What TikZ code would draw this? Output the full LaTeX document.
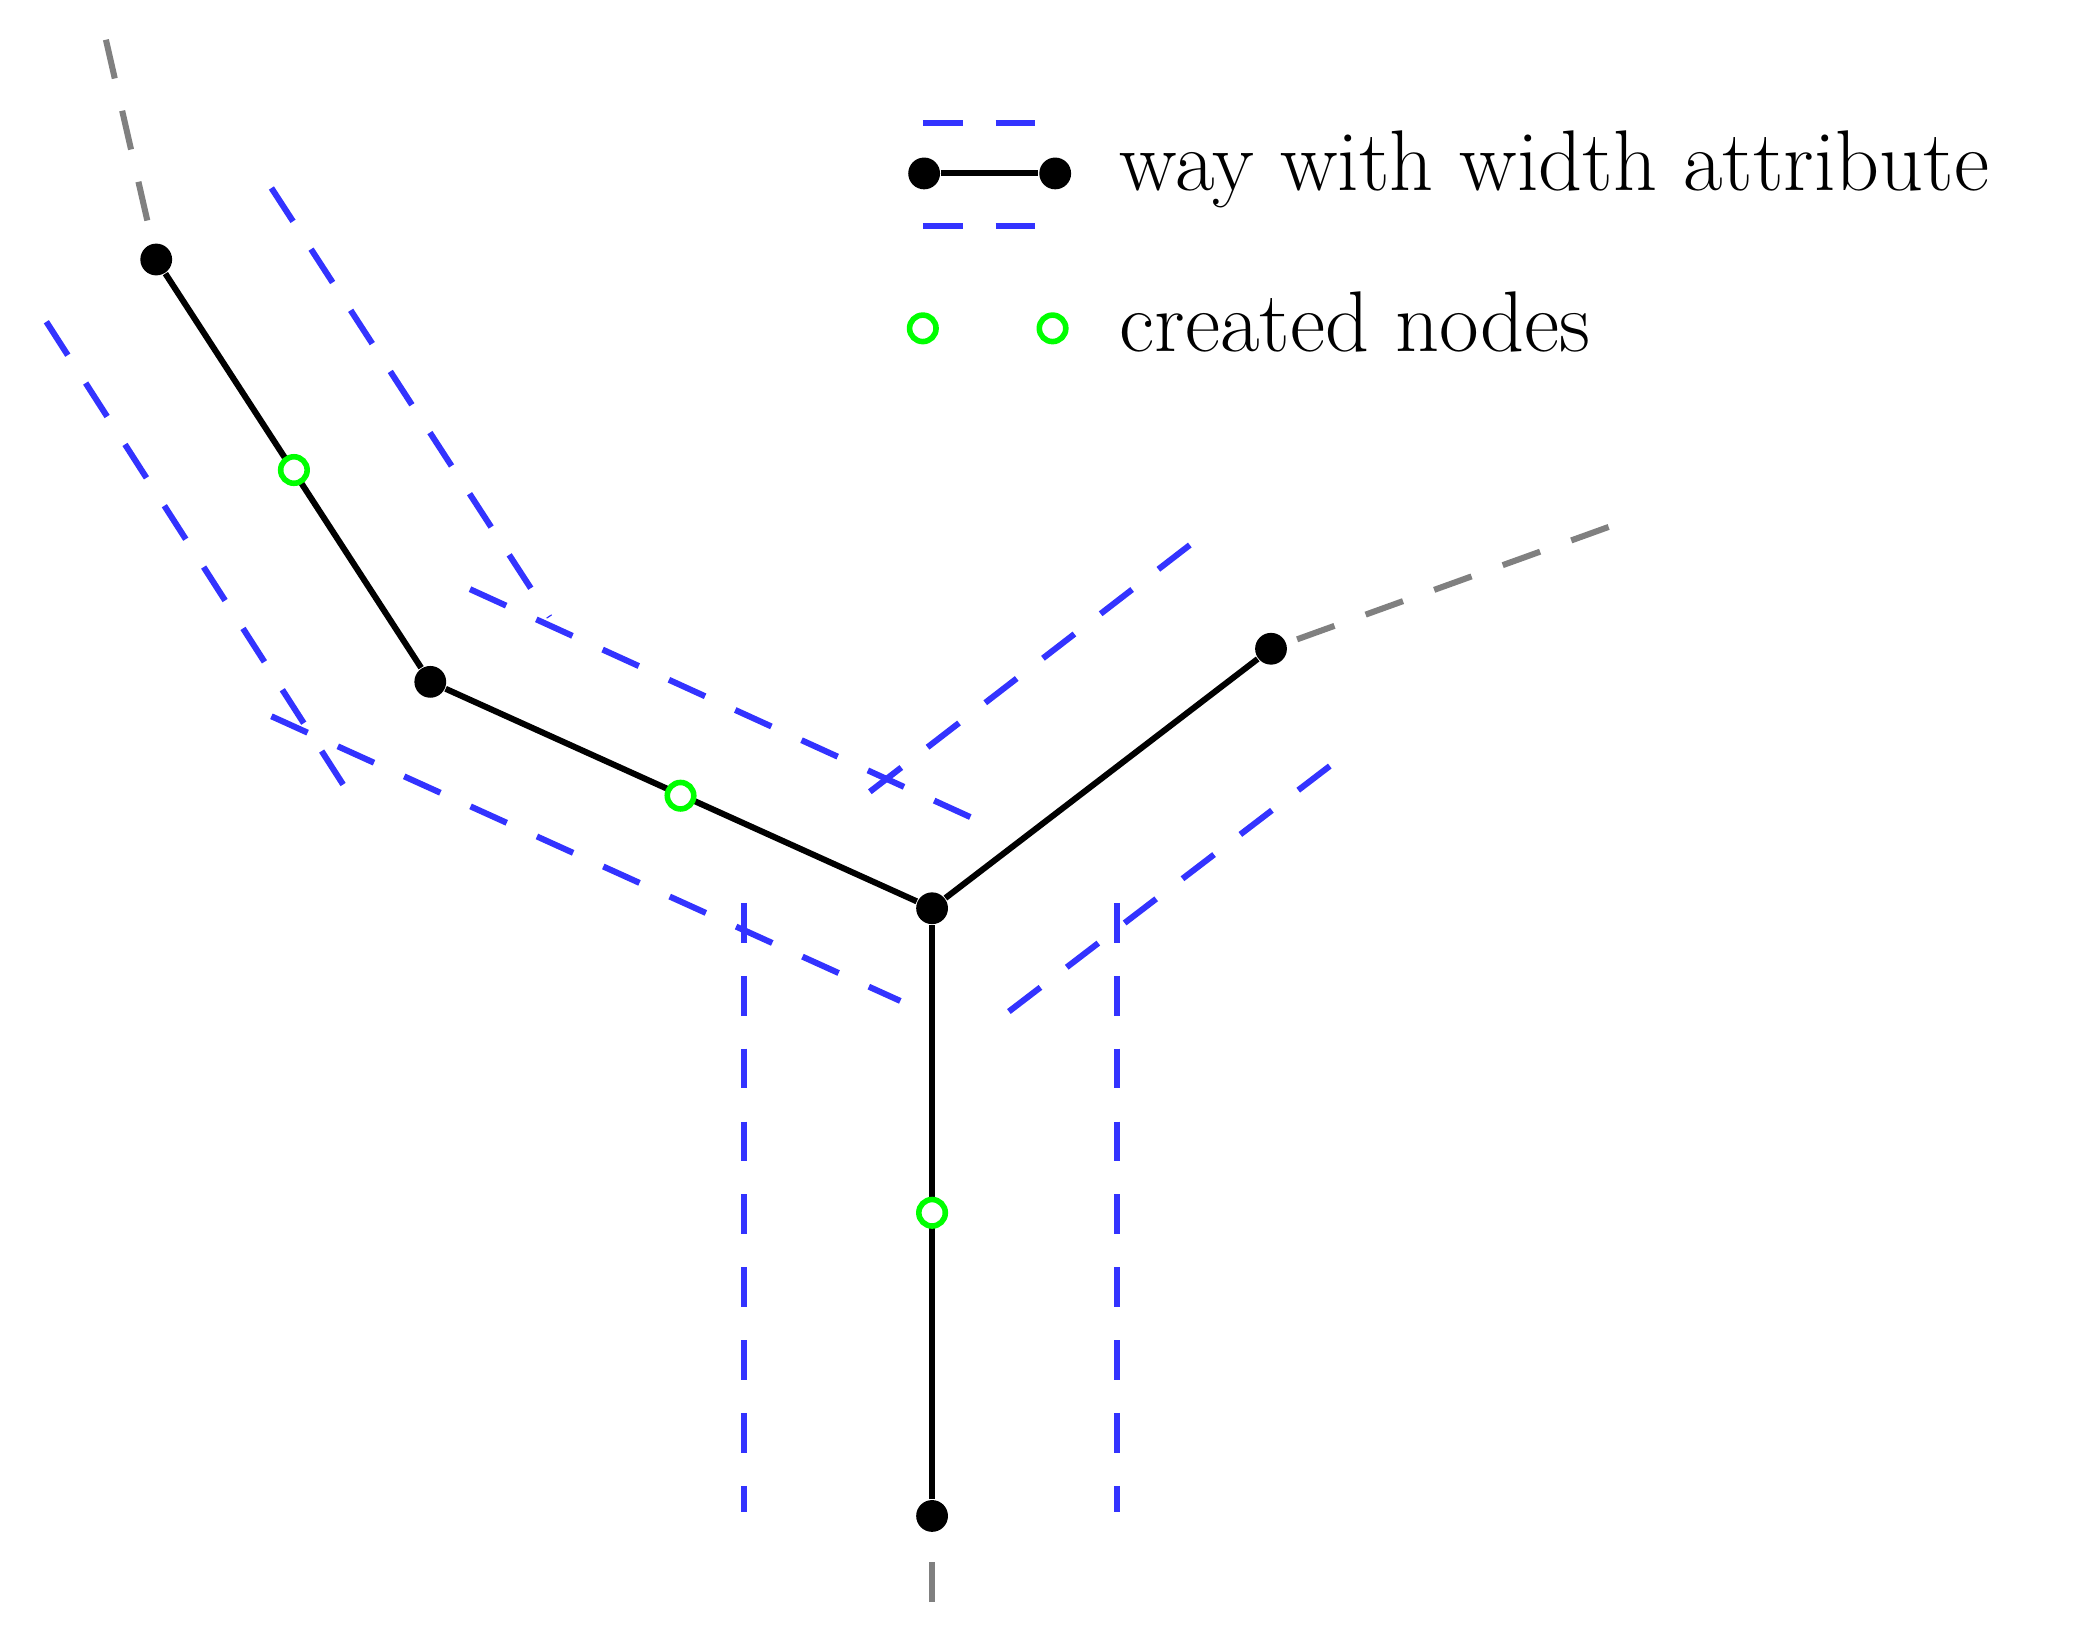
\documentclass[tikz,border=0pt]{standalone}
\begin{document}
\begin{tikzpicture}[
    x=0.01cm, y=-0.01cm,
    waynode/.style = {circle, fill=black, inner sep=0pt, minimum size=0.24cm},
    newnode/.style = {circle, draw=green, fill=white, line width=1.2pt,
                      inner sep=0pt, minimum size=0.2cm},
    way/.style     = {line width=1.3pt},
    ext/.style     = {line width=1.3pt, gray, dash pattern=on 0.3cm off 0.25cm},
    border/.style  = {line width=1.3pt, blue!80!white, dash pattern=on 0.3cm off 0.25cm},
    legtext/.style = {anchor=west, font=\fontsize{18.5}{22}\selectfont, inner sep=0pt}
]
\useasboundingbox (0,0) rectangle (1568,1233);
% way nodes
\node (a) [waynode] at (118,196) {};
\node (b) [waynode] at (325,515) {};
\node (c) [waynode] at (704,686) {};
\node (d) [waynode] at (960,490) {};
\node (e) [waynode] at (704,1145) {};
\coordinate (ta) at (80,30);
\coordinate (td) at (1215,398);
\coordinate (te) at (704,1210);
% continuation of the ways
\draw[ext] (ta) -- (a);
\draw[ext] (td) -- (d);
\draw[ext] (te) -- (e);
% width borders
\draw[border] (205,142) -- (415,466);
\draw[border] (35,243) -- (262,597);
\draw[border] (355,445) -- (737,619);
\draw[border] (205,541) -- (680,756);
\draw[border] (657,598) -- (906,406);
\draw[border] (762,764) -- (1013,572);
\draw[border] (562,682) -- (562,1142);
\draw[border] (844,682) -- (844,1142);
% the ways
\draw[way] (a) -- (b) -- (c) -- (d);
\draw[way] (c) -- (e);
\node (n1) [newnode] at (222,355) {};
\node (n2) [newnode] at (514,601) {};
\node (n3) [newnode] at (704,916) {};
% legend
\draw[border] (697,93) -- (800,93);
\draw[border] (697,171) -- (800,171);
\node (la) [waynode] at (698,131) {};
\node (lb) [waynode] at (797,131) {};
\draw[way] (la) -- (lb);
\node (lt1) [legtext] at (845,128) {way with width attribute};
\node (lc) [newnode] at (697,248) {};
\node (ld) [newnode] at (795,248) {};
\node (lt2) [legtext] at (845,243) {created nodes};
\end{tikzpicture}
\end{document}
